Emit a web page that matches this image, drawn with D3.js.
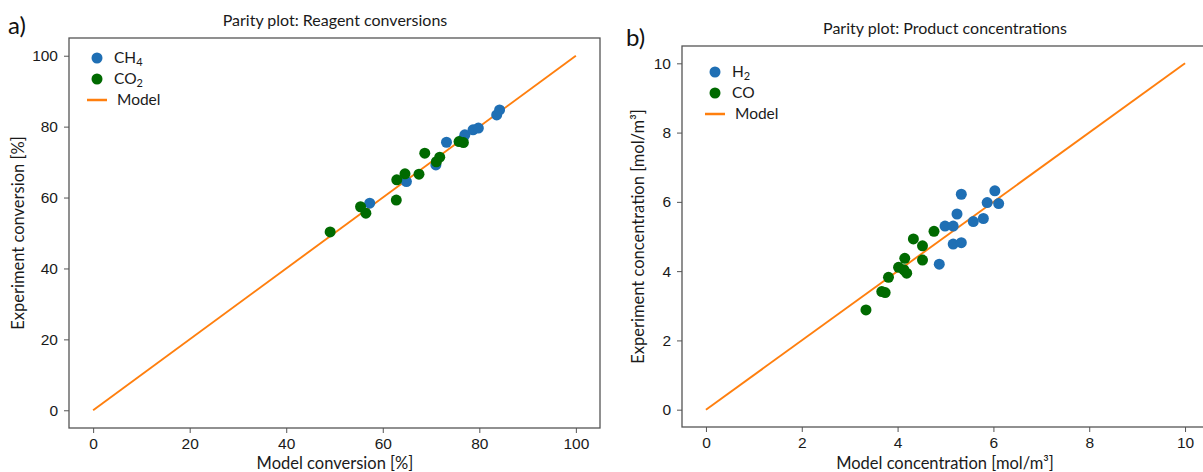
<!DOCTYPE html>
<html>
<head>
<meta charset="utf-8">
<script src="https://cdn.jsdelivr.net/npm/d3@7/dist/d3.min.js"></script>
<style>
  body { margin: 0; background: #fff; }
  svg { font-family: Lato, "Open Sans", sans-serif; }
  .axis path, .axis line { stroke: #555; }
  .axis text { fill: #1a1a1a; font-size: 15.5px; }
</style>
</head>
<body>
<svg width="1203" height="472"></svg>
<script>
// --- data: panel a (conversions, %) ---
const ch4Model = [57.3, 64.9, 71.0, 73.2, 76.6, 77.0, 78.7, 79.8, 83.6, 84.2];
const ch4Exp   = [58.4, 64.5, 69.2, 75.6, 76.4, 77.7, 79.1, 79.6, 83.3, 84.7];
const co2Model = [49.1, 55.4, 56.5, 62.8, 62.9, 64.6, 67.5, 68.7, 71.1, 71.8, 75.8, 76.7];
const co2Exp   = [50.3, 57.4, 55.6, 59.3, 65.0, 66.7, 66.6, 72.5, 70.1, 71.4, 75.8, 75.5];
const convTicks = [0, 20, 40, 60, 80, 100];

// --- data: panel b (concentrations, mol/m3) ---
const h2Model = [4.87, 4.99, 5.16, 5.24, 5.33, 5.16, 5.33, 5.58, 5.79, 5.87, 6.03, 6.11];
const h2Exp   = [4.20, 5.30, 5.30, 5.65, 6.22, 4.78, 4.82, 5.43, 5.52, 5.98, 6.32, 5.95];
const coModel = [3.34, 3.67, 3.74, 3.81, 4.02, 4.15, 4.19, 4.13, 4.52, 4.52, 4.33, 4.76];
const coExp   = [2.88, 3.41, 3.38, 3.82, 4.11, 4.37, 3.94, 4.04, 4.32, 4.73, 4.93, 5.15];
const concTicks = [0, 2, 4, 6, 8, 10];

const blue = "#1f6fb4", green = "#006a00", orange = "#ff7f0e";
const svg = d3.select("svg");

function panel(opt) {
  const x = d3.scaleLinear().domain(opt.domain).range([opt.left, opt.right]);
  const y = d3.scaleLinear().domain(opt.domain).range([opt.bottom, opt.top]);
  const g = svg.append("g");

  g.append("g").attr("class", "axis")
    .attr("transform", `translate(0,${opt.bottom})`)
    .call(d3.axisBottom(x).tickValues(opt.ticks).tickSize(5).tickPadding(5).tickSizeOuter(0))
    .call(a => a.select(".domain").remove());
  g.append("g").attr("class", "axis")
    .attr("transform", `translate(${opt.left},0)`)
    .call(d3.axisLeft(y).tickValues(opt.ticks).tickSize(5).tickPadding(6).tickSizeOuter(0))
    .call(a => a.select(".domain").remove());

  // frame
  g.append("rect")
    .attr("x", opt.left).attr("y", opt.top)
    .attr("width", opt.right - opt.left).attr("height", opt.bottom - opt.top)
    .attr("fill", "none").attr("stroke", "#555").attr("stroke-width", 1.3);

  // model line y = x
  g.append("line")
    .attr("x1", x(opt.ticks[0])).attr("y1", y(opt.ticks[0]))
    .attr("x2", x(opt.ticks[opt.ticks.length - 1])).attr("y2", y(opt.ticks[opt.ticks.length - 1]))
    .attr("stroke", orange).attr("stroke-width", 1.9);

  opt.series.forEach(s => {
    g.append("g").selectAll("circle")
      .data(d3.zip(s.mx, s.ex))
      .join("circle")
      .attr("cx", d => x(d[0]))
      .attr("cy", d => y(d[1]))
      .attr("r", 5.5)
      .attr("fill", s.color);
  });

  // legend
  const lg = g.append("g").attr("font-size", 15.5).attr("fill", "#1a1a1a");
  opt.series.forEach((s, i) => {
    const ly = opt.legY + i * 21;
    lg.append("circle").attr("cx", opt.legX).attr("cy", ly).attr("r", 5.5).attr("fill", s.color);
    const t = lg.append("text").attr("x", opt.legX + 17).attr("y", ly + 5);
    t.append("tspan").text(s.name);
    if (s.sub) t.append("tspan").attr("font-size", 11).attr("dy", 3).text(s.sub);
  });
  const my = opt.legY + 2 * 21;
  lg.append("line").attr("x1", opt.legX - 10).attr("x2", opt.legX + 10)
    .attr("y1", my).attr("y2", my).attr("stroke", orange).attr("stroke-width", 2.5);
  lg.append("text").attr("x", opt.legX + 20).attr("y", my + 5).text("Model");

  // titles and labels
  g.append("text").attr("x", opt.titleX).attr("y", opt.top - 12)
    .attr("text-anchor", "middle").attr("font-size", 16).attr("fill", "#1a1a1a").text(opt.title);
  g.append("text").attr("x", opt.titleX).attr("y", 469)
    .attr("text-anchor", "middle").attr("font-size", 16.5).attr("fill", "#1a1a1a").text(opt.xlabel);
  g.append("text").attr("transform", `translate(${opt.left - opt.ylabOff},${(opt.top + opt.bottom) / 2}) rotate(-90)`)
    .attr("text-anchor", "middle").attr("font-size", 16.5).attr("fill", "#1a1a1a").text(opt.ylabel);
  g.append("text").attr("x", opt.tagX).attr("y", opt.tagY)
    .attr("font-size", 24).attr("fill", "#111").text(opt.tag);
}

panel({
  domain: [-5, 105], ticks: convTicks,
  left: 69, right: 600, top: 38, bottom: 428,
  title: "Parity plot: Reagent conversions", titleX: 335,
  xlabel: "Model conversion [%]", ylabel: "Experiment conversion [%]", ylabOff: 45,
  tag: "a)", tagX: 8, tagY: 34,
  legX: 97, legY: 58,
  series: [
    { name: "CH", sub: "4", color: blue, mx: ch4Model, ex: ch4Exp },
    { name: "CO", sub: "2", color: green, mx: co2Model, ex: co2Exp }
  ]
});

panel({
  domain: [-0.5, 10.5], ticks: concTicks,
  left: 682, right: 1209, top: 46, bottom: 427,
  title: "Parity plot: Product concentrations", titleX: 945,
  xlabel: "Model concentration [mol/m³]", ylabel: "Experiment concentration [mol/m³]", ylabOff: 38,
  tag: "b)", tagX: 626, tagY: 46,
  legX: 715, legY: 72,
  series: [
    { name: "H", sub: "2", color: blue, mx: h2Model, ex: h2Exp },
    { name: "CO", sub: null, color: green, mx: coModel, ex: coExp }
  ]
});
</script>
</body>
</html>
